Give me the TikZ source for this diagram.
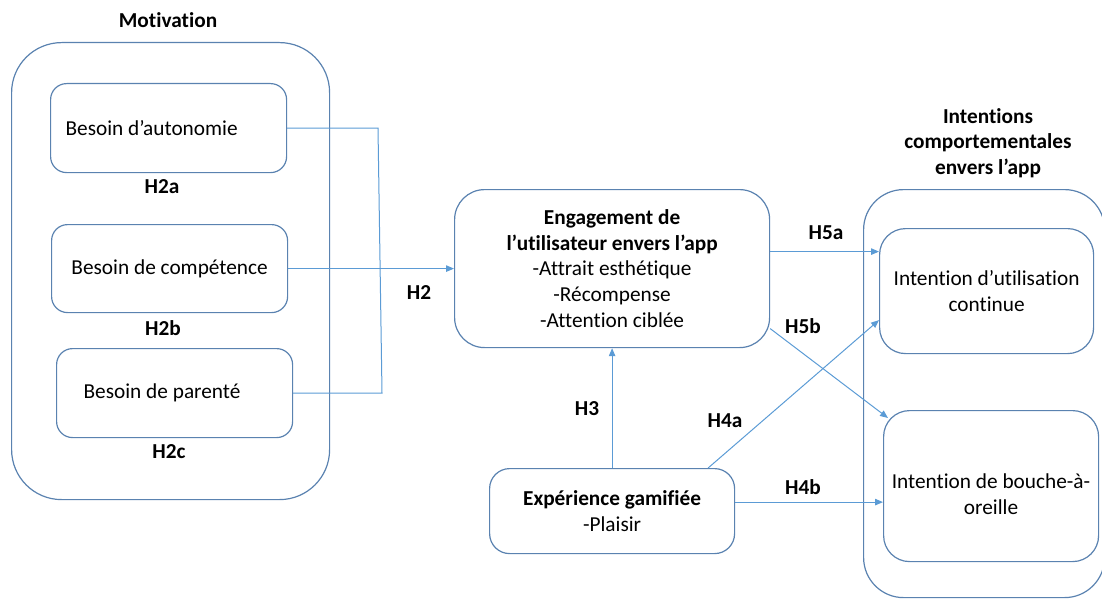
\documentclass[tikz,border=0pt]{standalone}
\usepackage{fontspec}
\setmainfont{Carlito}[Ligatures=NoCommon]
\usetikzlibrary{arrows.meta}
\definecolor{boxblue}{HTML}{5A82B0}
\definecolor{linkblue}{HTML}{5B9BD5}
\begin{document}
\begin{tikzpicture}[x=1pt,y=-1pt,
  every node/.style={font=\fontsize{21.3}{25.7}\selectfont, inner sep=0pt},
  frame/.style={draw=boxblue, line width=1.2pt, rounded corners=#1, anchor=north west},
  link/.style={draw=linkblue, line width=1pt},
  arr/.style={link, -{Triangle[length=8pt,width=6.5pt]}},
  hyp/.style={font=\fontsize{21.3}{25.7}\selectfont\bfseries},
]
\useasboundingbox (0,0) rectangle (1102,599);

% Motivation group
\node[frame=50pt, minimum width=318pt, minimum height=457pt] (mot) at (11,42) {};
\node[hyp] (motT) at (168,20) {Motivation};
\node[frame=16pt, minimum width=236pt, minimum height=89pt, text width=206pt, align=flush left, inner xsep=15pt] (aut) at (50,83) {Besoin d’autonomie};
\node[frame=16pt, minimum width=236pt, minimum height=88pt] (comp) at (51,224) {Besoin de compétence};
\node[frame=16pt, minimum width=236pt, minimum height=89pt, text width=182pt, align=flush left, inner xsep=27pt] (par) at (56,348) {Besoin de parenté};
\node[hyp] (h2a) at (162,187) {H2a};
\node[hyp] (h2b) at (163,328) {H2b};
\node[hyp] (h2c) at (169,452) {H2c};

% Engagement and gamified experience
\node[frame=30pt, minimum width=315pt, minimum height=158pt, align=center] (eng) at (454,189)
  {\textbf{Engagement de}\\\textbf{l’utilisateur envers l’app}\\-Attrait esthétique\\-Récompense\\-Attention ciblée};
\node[frame=20pt, minimum width=245pt, minimum height=85pt, align=center] (exp) at (489,468)
  {\textbf{Expérience gamifiée}\\-Plaisir};

% Behavioural intentions group
\node[frame=40pt, minimum width=241pt, minimum height=408pt] (int) at (863,189) {};
\node[hyp, align=center] (intT) at (988,143) {Intentions\\comportementales\\envers l’app};
\node[frame=26pt, minimum width=214pt, minimum height=125pt, align=center] (cont) at (879,228)
  {Intention d’utilisation\\continue};
\node[frame=26pt, minimum width=215pt, minimum height=151pt] (bou) at (883,410) {};
\node[align=center] (bouT) at (991,494) {Intention de bouche-à-\\oreille};

% H2: needs feed into engagement
\coordinate (j1) at (378,128);
\coordinate (j2) at (382,392);
\draw[link] (aut.east) -- (aut.east -| j1) -- (par.east -| j2) -- (par.east);
\draw[arr] (comp.east) -- (comp.east -| eng.west);
\node[hyp] (h2) at (419,293) {H2};

% H5a / H5b
\draw[arr] ([yshift=17pt]eng.east) -- ([yshift=17pt]eng.east -| cont.west);
\node[hyp] (h5a) at (826,233) {H5a};
\draw[arr] ([yshift=-60pt]eng.east) -- ([shift={(5pt,-8pt)}]bou.north west);
\node[hyp] (h5b) at (803,326) {H5b};

% H3, H4a, H4b
\draw[arr] (exp.north) -- (eng.south);
\node[hyp] (h3) at (587,409) {H3};
\draw[arr] ([xshift=96pt]exp.north) -- ([yshift=-29pt]cont.west);
\node[hyp] (h4a) at (725,421) {H4a};
\draw[arr] ([yshift=9pt]exp.east) -- ([yshift=9pt]exp.east -| bou.west);
\node[hyp] (h4b) at (803,487) {H4b};
\end{tikzpicture}
\end{document}
